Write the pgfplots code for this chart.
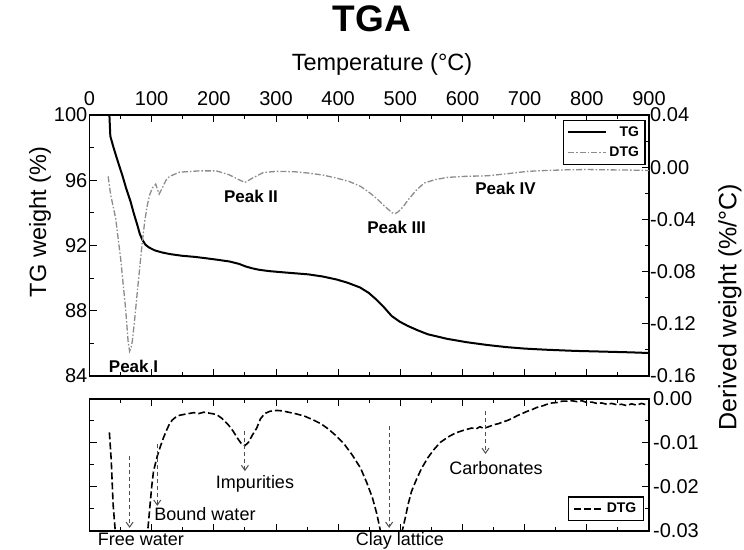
\documentclass[border=0pt]{standalone}
\usepackage{fontspec}
\setmainfont{Liberation Sans}
\usepackage{pgfplots}
\pgfplotsset{compat=1.18}
\usetikzlibrary{arrows.meta}
\definecolor{dtggray}{RGB}{140,140,140}
\definecolor{anngray}{RGB}{80,80,80}
\newcommand{\fs}[1]{\fontsize{#1}{#1}\selectfont}

\pgfplotsset{
  common/.style={
    scale only axis, width=559.5pt,
    xmin=0, xmax=900,
    xtick={0,100,...,900}, minor x tick num=1,
    tick align=inside,
    axis line style={line width=1.2pt},
    every tick/.style={black, line width=1pt},
    major tick length=7pt, minor tick length=4pt,
    /pgf/number format/assume math mode=true,
    tick label style={font=\fs{20}},
    scaled y ticks=false,
  },
}
\tikzset{annot/.style={anngray, line width=1pt, dash pattern=on 4pt off 3pt, -{Straight Barb[length=5pt,width=7pt]}}}

\begin{document}
\begin{tikzpicture}
\useasboundingbox (0,0) rectangle (744pt,549pt);
% ---------------- top panel, TG (left axis)
\begin{axis}[common, height=261pt, at={(89.5pt,173pt)}, anchor=south west,
  ymin=84, ymax=100, ytick={84,88,92,96,100}, minor y tick num=1,
  xtick pos=both, xticklabel pos=upper, ytick pos=left,
  yticklabel style={inner xsep=2pt}, xticklabel style={inner ysep=3pt, yshift=6.5pt}]
\addplot[black, line width=2pt] coordinates {
(31,100.5) (32,100) (33.5,98.7) (39,97.96) (46,97.1) (52.6,96.33) (59,95.5) (66,94.7)
(71,94.0) (76.8,93.27) (81,92.7) (85,92.35) (90,92.05) (95.6,91.88) (105,91.7) (117,91.57)
(130,91.47) (149,91.37) (170,91.3) (187,91.22) (205,91.13) (225,91.02) (240,90.88) (251.6,90.71)
(262,90.6) (273,90.51) (289,90.43) (310,90.36) (352,90.23) (375,90.1) (397,89.92) (415,89.72)
(435,89.43) (449,89.1) (461,88.7) (474,88.2) (486,87.68) (499,87.33) (512,87.07) (528,86.8)
(544,86.56) (575,86.28) (607,86.07) (640,85.9) (671,85.77) (700,85.68) (735,85.61) (780,85.54)
(831,85.49) (870,85.45) (900,85.41)
};
\end{axis}
% ---------------- top panel, DTG (right axis)
\begin{axis}[common, height=261pt, at={(89.5pt,173pt)}, anchor=south west,
  axis x line=none, axis y line*=right,
  ymin=-0.16, ymax=0.04, ytick={-0.16,-0.12,-0.08,-0.04,0,0.04}, minor y tick num=1,
  yticklabel style={/pgf/number format/.cd, fixed, fixed zerofill, precision=2, /tikz/.cd, inner xsep=1pt},
  legend style={at={(0.994,0.981)}, anchor=north east, draw=black, line width=1.2pt,
    inner xsep=4pt, inner ysep=4pt, font=\bfseries\fs{14}, row sep=5pt,
    /tikz/every even column/.append style={column sep=10pt}},
  legend cell align=right,
  legend image code/.code={\draw[#1] (0pt,0pt) -- (38pt,0pt);}]
\addlegendimage{black, line width=2pt}
\addlegendentry{TG}
\addplot[dtggray, line width=1.3pt, dash pattern=on 6pt off 2pt on 1.5pt off 2pt] coordinates {
(30,-0.007) (34,-0.021) (42,-0.039) (50,-0.0696) (58,-0.108) (62,-0.133) (64.5,-0.141) (67,-0.138)
(69,-0.133) (73,-0.115) (77,-0.095) (81,-0.076) (85,-0.057) (89,-0.041) (93,-0.029) (97,-0.021)
(101,-0.016) (106.5,-0.013) (112,-0.0206) (117,-0.016) (123,-0.010) (129,-0.007) (145,-0.0038)
(177,-0.0028) (204,-0.0028) (225,-0.0059) (240,-0.0095) (250,-0.0117) (262,-0.0084) (280,-0.004)
(301,-0.0032) (330,-0.0035) (352,-0.0045) (375,-0.006) (397,-0.0083) (418,-0.011) (436,-0.0147)
(449,-0.019) (461,-0.0236) (475,-0.030) (487,-0.035) (492,-0.0355) (497,-0.034) (505,-0.030)
(512.6,-0.025) (525,-0.018) (538,-0.0122) (556,-0.0095) (576,-0.0078) (605,-0.007) (640,-0.0066)
(672,-0.005) (704.5,-0.0032) (735,-0.0025) (768,-0.002) (800,-0.0018) (832,-0.002) (865,-0.0022)
(900,-0.0025)
};
\addlegendentry{DTG}
\end{axis}
% ---------------- bottom panel
\begin{axis}[common, height=132pt, at={(89.5pt,18pt)}, anchor=south west,
  ymin=-0.03, ymax=0, ytick={-0.03,-0.02,-0.01,0}, minor y tick num=1,
  xtick pos=both, xticklabels={},
  ytick pos=both, yticklabel pos=right,
  yticklabel style={/pgf/number format/.cd, fixed, fixed zerofill, precision=2, /tikz/.cd, inner xsep=4pt},
  legend style={at={(0.991,0.076)}, anchor=south east, draw=black, line width=1.2pt,
    inner xsep=5pt, inner ysep=4pt, font=\bfseries\fs{14},
    /tikz/every even column/.append style={column sep=6pt}},
  legend image code/.code={\draw[#1] (0pt,0pt) -- (30pt,0pt);}]
\addplot[black, line width=1.6pt, dash pattern=on 7pt off 3pt] coordinates {
(32,-0.0076) (35,-0.014) (38,-0.024) (42,-0.031) (50,-0.07) (64,-0.14) (78,-0.09) (90,-0.038)
(93,-0.031) (96.5,-0.0255) (100,-0.020) (103,-0.0164) (109,-0.013) (114,-0.0108) (119,-0.0088)
(124,-0.0071) (128.5,-0.0057) (133,-0.0048) (138,-0.0042) (145,-0.0037) (152,-0.0035) (160,-0.0033)
(168,-0.0031) (176,-0.0033) (184,-0.003) (192,-0.0032) (200,-0.0034) (206,-0.0037) (212,-0.0043)
(218,-0.0051) (224,-0.006) (231,-0.0073) (238,-0.0089) (244,-0.0101) (250,-0.0106) (256,-0.0098)
(262,-0.0082) (269,-0.0066) (275,-0.0045) (282,-0.0033) (290,-0.0028) (301,-0.0026) (310,-0.0027)
(320,-0.003) (333,-0.0034) (346,-0.0039) (359,-0.0047) (372,-0.0056) (384,-0.0068) (397,-0.0084)
(410,-0.0103) (423,-0.0128) (436,-0.0157) (446,-0.019) (455,-0.0224) (462,-0.026) (468,-0.030)
(476,-0.034) (485,-0.036) (495,-0.034) (503,-0.030) (508,-0.027) (512.6,-0.0239) (518,-0.021)
(525,-0.0186) (534,-0.0158) (544.5,-0.0133) (554,-0.0115) (564,-0.0099) (576,-0.0087) (589,-0.0077)
(602,-0.0071) (615,-0.0066) (622,-0.0068) (628,-0.0063) (634,-0.0067) (640,-0.0064) (646,-0.0061)
(652,-0.0058) (658,-0.0056) (665,-0.0052) (672,-0.0049) (680,-0.0044) (688,-0.0038) (696,-0.0033)
(704,-0.0028) (712,-0.0024) (720,-0.0019) (728,-0.0016) (736,-0.0012) (744,-0.0009) (752,-0.0008)
(760,-0.0005) (768,-0.0005) (776,-0.0004) (784,-0.0006) (792,-0.0004) (800,-0.0008) (808,-0.0007)
(816,-0.001) (824,-0.0009) (832,-0.0012) (840,-0.001) (848,-0.0013) (856,-0.0012) (864,-0.0015)
(872,-0.0011) (880,-0.0014) (888,-0.001) (895,-0.0013) (900,-0.0011)
};
\addlegendentry{DTG}
\draw[annot] (axis cs:64.5,-0.013) -- (axis cs:64.5,-0.0293);
\draw[annot] (axis cs:109,-0.0103) -- (axis cs:109,-0.0243);
\draw[annot] (axis cs:250,-0.0072) -- (axis cs:250,-0.0164);
\draw[annot] (axis cs:482,-0.0061) -- (axis cs:482,-0.0293);
\draw[annot] (axis cs:637,-0.0027) -- (axis cs:637,-0.0125);
\end{axis}
% ---------------- titles and labels
\node[anchor=base, font=\bfseries\fs{37}] at (372pt,517pt) {TGA};
\node[anchor=base, font=\fs{23.5}] at (382pt,478pt) {Temperature (°C)};
\node[rotate=90, font=\fs{23.5}] at (40pt,327pt) {TG weight (\%)};
\node[rotate=90, font=\fs{25}] at (730pt,242pt) {Derived weight (\%/°C)};
% peak labels
\node[font=\bfseries\fs{17}] at (133.5pt,182.3pt) {Peak I};
\node[font=\bfseries\fs{17}] at (251pt,353pt) {Peak II};
\node[font=\bfseries\fs{17}] at (396.6pt,321.7pt) {Peak III};
\node[font=\bfseries\fs{17}] at (505.5pt,360.7pt) {Peak IV};
% bottom annotations
\node[font=\fs{18}] at (496pt,81pt) {Carbonates};
\node[font=\fs{18}] at (255pt,65pt) {Impurities};
\node[font=\fs{18}] at (205pt,35pt) {Bound water};
\node[font=\fs{18}] at (141pt,10pt) {Free water};
\node[font=\fs{18}] at (400pt,8pt) {Clay lattice};
\end{tikzpicture}
\end{document}
